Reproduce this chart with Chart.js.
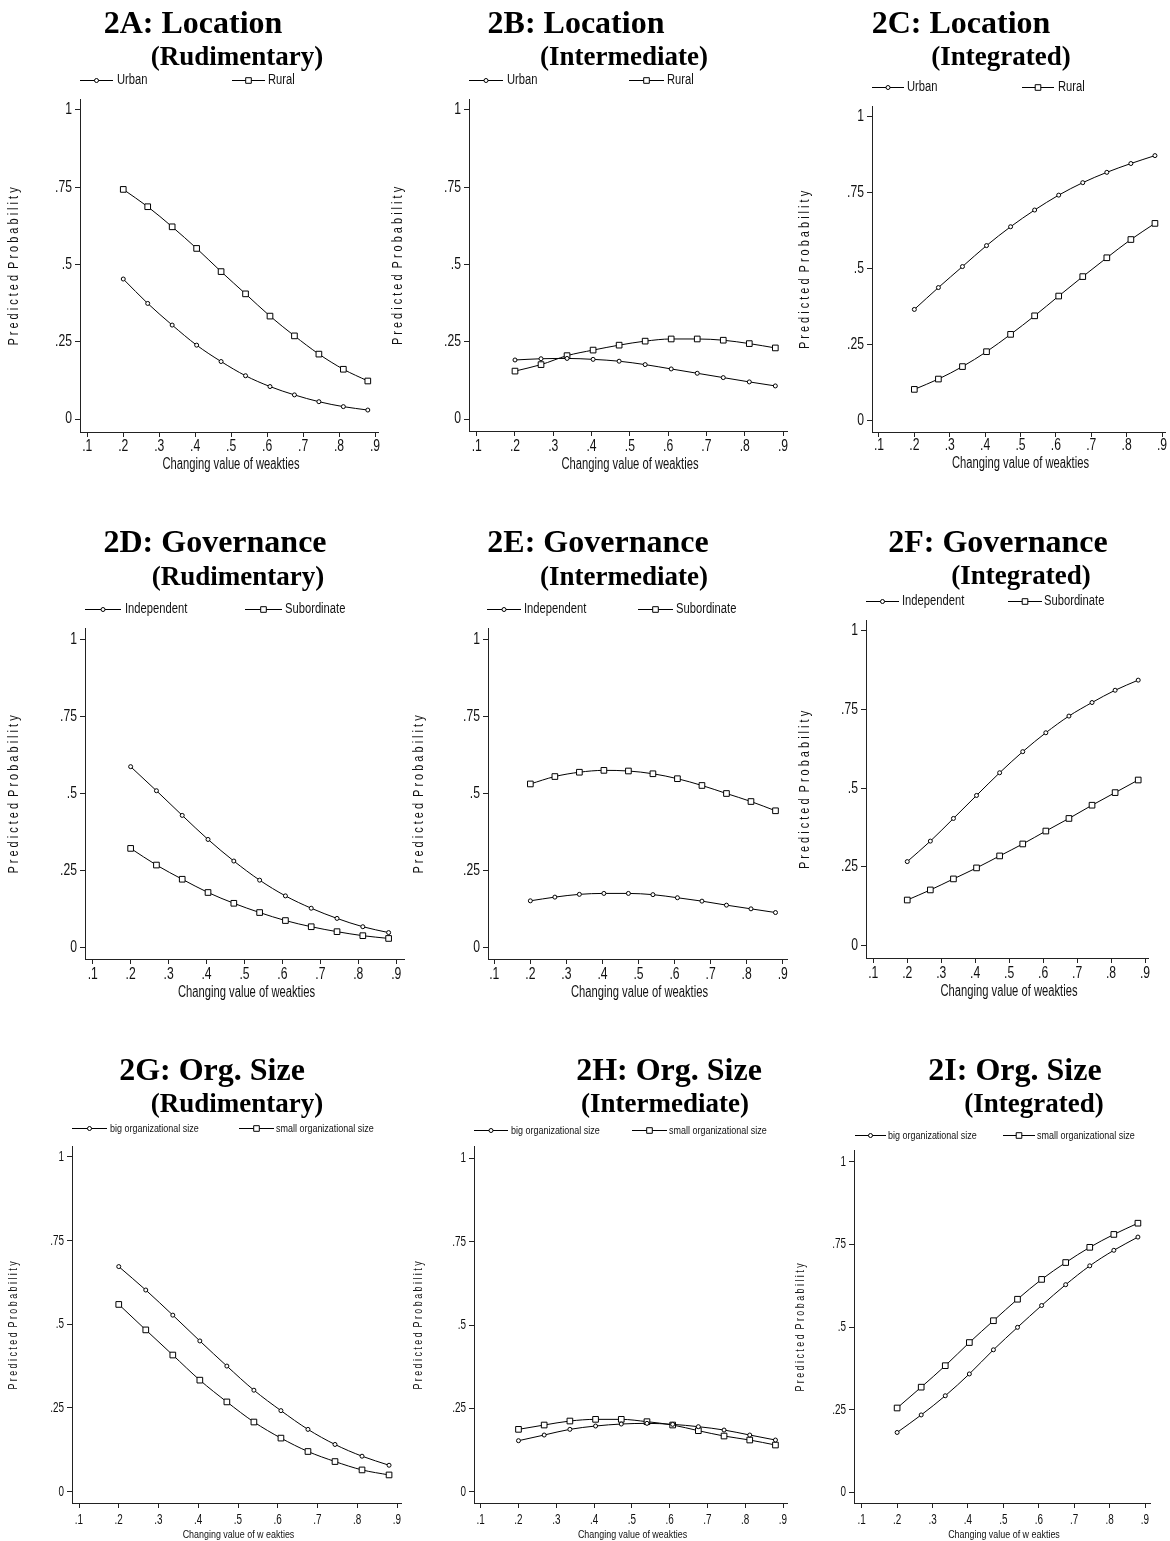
<!DOCTYPE html>
<html>
<head>
<meta charset="utf-8">
<script src="https://cdn.jsdelivr.net/npm/chart.js@4.4.0/dist/chart.umd.min.js"></script>
<style>
html, body { margin: 0; padding: 0; background: #fff; }
#page { position: relative; width: 1170px; height: 1541px; overflow: hidden; }
#page canvas { position: absolute; }
</style>
</head>
<body>
<div id="page"></div>
<script>
// x positions of the markers (changing value of weakties)
const xValues = [0.2, 0.268, 0.336, 0.404, 0.472, 0.54, 0.608, 0.676, 0.744, 0.812, 0.88];
const xTicks = [0.1, 0.2, 0.3, 0.4, 0.5, 0.6, 0.7, 0.8, 0.9];
const yTicks = [0, 0.25, 0.5, 0.75, 1];

// 2A-2C location
const locRudUrban = [0.453, 0.374, 0.304, 0.239, 0.186, 0.140, 0.105, 0.078, 0.056, 0.040, 0.029];
const locRudRural = [0.743, 0.687, 0.622, 0.552, 0.477, 0.405, 0.333, 0.269, 0.210, 0.161, 0.123];
const locIntmUrban = [0.191, 0.195, 0.196, 0.193, 0.187, 0.176, 0.162, 0.148, 0.134, 0.120, 0.107];
const locIntmRural = [0.155, 0.176, 0.205, 0.223, 0.239, 0.252, 0.259, 0.259, 0.255, 0.244, 0.230];
const locIntgUrban = [0.366, 0.438, 0.507, 0.576, 0.638, 0.693, 0.742, 0.783, 0.817, 0.846, 0.872];
const locIntgRural = [0.103, 0.137, 0.178, 0.227, 0.284, 0.345, 0.410, 0.474, 0.536, 0.596, 0.649];

// 2D-2F governance
const govRudIndep = [0.587, 0.509, 0.429, 0.351, 0.281, 0.219, 0.168, 0.128, 0.095, 0.068, 0.049];
const govRudSub = [0.322, 0.268, 0.222, 0.179, 0.144, 0.114, 0.088, 0.068, 0.052, 0.039, 0.030];
const govIntmIndep = [0.152, 0.164, 0.173, 0.176, 0.176, 0.172, 0.162, 0.151, 0.138, 0.126, 0.114];
const govIntmSub = [0.531, 0.555, 0.569, 0.575, 0.573, 0.564, 0.548, 0.526, 0.500, 0.474, 0.444];
const govIntgIndep = [0.267, 0.332, 0.404, 0.477, 0.549, 0.616, 0.676, 0.729, 0.772, 0.811, 0.843];
const govIntgSub = [0.145, 0.177, 0.212, 0.247, 0.285, 0.323, 0.364, 0.404, 0.446, 0.486, 0.526];

// 2G-2I org. size
const sizeRudBig = [0.672, 0.602, 0.527, 0.450, 0.375, 0.303, 0.242, 0.186, 0.141, 0.106, 0.079];
const sizeRudSmall = [0.559, 0.483, 0.408, 0.333, 0.268, 0.208, 0.160, 0.120, 0.090, 0.065, 0.050];
const sizeIntmBig = [0.153, 0.170, 0.187, 0.197, 0.203, 0.205, 0.202, 0.195, 0.185, 0.170, 0.155];
const sizeIntmSmall = [0.187, 0.200, 0.212, 0.217, 0.217, 0.210, 0.200, 0.183, 0.167, 0.155, 0.140];
const sizeIntgBig = [0.181, 0.234, 0.292, 0.358, 0.431, 0.499, 0.565, 0.628, 0.685, 0.732, 0.772];
const sizeIntgSmall = [0.255, 0.318, 0.383, 0.453, 0.519, 0.584, 0.644, 0.695, 0.741, 0.780, 0.814];

const locLabels = ['Urban', 'Rural'];
const govLabels = ['Independent', 'Subordinate'];
const sizeLabels = ['big organizational size', 'small organizational size'];
const yTitleText = 'P r e d i c t e d  P r o b a b i l i t y';

const SANS = "'Liberation Sans', Arial, sans-serif";
const SERIF = "'Liberation Serif', 'Times New Roman', serif";
const INK = '#111';

// Stata draws its text in a squeezed Arial; size + horizontal squeeze per text kind
const bigText = { tick: [16, 0.76], legend: [14, 0.8], xTitle: [16, 0.7], yTitle: [15, 0.73] };
const smallText = { tick: [15, 0.66], legend: [11.5, 0.78], xTitle: [11.6, 0.77], yTitle: [12.5, 0.71] };

// page layout of each panel (pixels)
const panels = [
    { cell: [0, 0, 390, 500], title: ['2A: Location', '(Rudimentary)'], t1: [193, 33], t2: [237, 65],
      labels: locLabels, series: [locRudUrban, locRudRural], ly: 80, leg: [[80, 113, 117], [232, 265, 268]],
      axisX: 80, axisTop: 99, axisY: 432, axisRight: 378, px1: 87.3, px9: 375, py1: 110, py0: 419,
      yTitleX: 14, xTickY: 447, xTitleY: 465, xTitle: 'Changing value of weakties' },
    { cell: [390, 0, 405, 500], title: ['2B: Location', '(Intermediate)'], t1: [576, 33], t2: [624, 65],
      labels: locLabels, series: [locIntmUrban, locIntmRural], ly: 80, leg: [[469, 503, 507], [629, 664, 667]],
      axisX: 469, axisTop: 99, axisY: 431, axisRight: 787, px1: 476.7, px9: 783, py1: 110, py0: 419,
      yTitleX: 398, xTickY: 447, xTitleY: 465, xTitle: 'Changing value of weakties' },
    { cell: [780, 0, 390, 500], title: ['2C: Location', '(Integrated)'], t1: [961, 33], t2: [1001, 65],
      labels: locLabels, series: [locIntgUrban, locIntgRural], ly: 87, leg: [[872, 904, 907], [1022, 1054, 1058]],
      axisX: 872, axisTop: 106, axisY: 432, axisRight: 1167, px1: 879, px9: 1164, py1: 116.7, py0: 420.7,
      yTitleX: 805, xTickY: 446, xTitleY: 464, xTitle: 'Changing value of weakties' },
    { cell: [0, 505, 410, 495], title: ['2D: Governance', '(Rudimentary)'], t1: [215, 552], t2: [238, 585],
      labels: govLabels, series: [govRudIndep, govRudSub], ly: 609, leg: [[85, 121, 125], [245, 282, 285]],
      axisX: 85, axisTop: 628, axisY: 959, axisRight: 404, px1: 92.7, px9: 396.2, py1: 639.3, py0: 947.7,
      yTitleX: 14, xTickY: 975, xTitleY: 993, xTitle: 'Changing value of weakties' },
    { cell: [390, 505, 405, 495], title: ['2E: Governance', '(Intermediate)'], t1: [598, 552], t2: [624, 585],
      labels: govLabels, series: [govIntmIndep, govIntmSub], ly: 609, leg: [[487, 521, 524], [638, 673, 676]],
      axisX: 488, axisTop: 628, axisY: 959, axisRight: 787, px1: 494.3, px9: 782.7, py1: 639.3, py0: 947.7,
      yTitleX: 419, xTickY: 975, xTitleY: 993, xTitle: 'Changing value of weakties' },
    { cell: [780, 505, 390, 495], title: ['2F: Governance', '(Integrated)'], t1: [998, 552], t2: [1021, 584],
      labels: govLabels, series: [govIntgIndep, govIntgSub], ly: 601, leg: [[866, 899, 902], [1008, 1042, 1044]],
      axisX: 866, axisTop: 620, axisY: 958, axisRight: 1148, px1: 873.3, px9: 1145, py1: 630.7, py0: 945.7,
      yTitleX: 805, xTickY: 974, xTitleY: 992, xTitle: 'Changing value of weakties' },
    { cell: [0, 1035, 410, 506], title: ['2G: Org. Size', '(Rudimentary)'], t1: [212, 1080], t2: [237, 1112],
      labels: sizeLabels, series: [sizeRudBig, sizeRudSmall], ly: 1128, leg: [[72, 107, 110], [239, 274, 276]],
      axisX: 72, axisTop: 1146, axisY: 1503, axisRight: 401, px1: 79, px9: 397, py1: 1156.7, py0: 1491.7,
      yTitleX: 14, xTickY: 1520, xTitleY: 1535, xTitle: 'Changing value of w eakties', small: true },
    { cell: [390, 1035, 405, 506], title: ['2H: Org. Size', '(Intermediate)'], t1: [669, 1080], t2: [665, 1112],
      labels: sizeLabels, series: [sizeIntmBig, sizeIntmSmall], ly: 1130, leg: [[474, 508, 511], [632, 667, 669]],
      axisX: 474, axisTop: 1146, axisY: 1503, axisRight: 787, px1: 480.7, px9: 783, py1: 1158.3, py0: 1491.7,
      yTitleX: 419, xTickY: 1520, xTitleY: 1535, xTitle: 'Changing value of weakties', small: true },
    { cell: [780, 1035, 390, 506], title: ['2I: Org. Size', '(Integrated)'], t1: [1015, 1080], t2: [1034, 1112],
      labels: sizeLabels, series: [sizeIntgBig, sizeIntgSmall], ly: 1135, leg: [[855, 886, 888], [1003, 1035, 1037]],
      axisX: 854, axisTop: 1150, axisY: 1503, axisRight: 1150, px1: 861.7, px9: 1145, py1: 1161.7, py0: 1492.3,
      yTitleX: 801, xTickY: 1520, xTitleY: 1535, xTitle: 'Changing value of w eakties', small: true }
];

const fmt = v => v === 0 ? '0' : v === 1 ? '1' : String(v).replace(/^0/, '');

function narrowText(ctx, text, x, y, style, align, rotate) {
    ctx.save();
    ctx.translate(x, y);
    if (rotate) ctx.rotate(-Math.PI / 2);
    ctx.scale(style[1], 1);
    ctx.font = style[0] + 'px ' + SANS;
    ctx.textAlign = align || 'center';
    ctx.textBaseline = 'middle';
    ctx.fillStyle = INK;
    ctx.fillText(text, 0, 0);
    ctx.restore();
}

function drawMarker(ctx, style, x, y) {
    ctx.beginPath();
    if (style === 'circle') {
        ctx.arc(x, y, 2, 0, Math.PI * 2);
    } else {
        ctx.rect(x - 2.8, y - 2.8, 5.6, 5.6);
    }
    ctx.fillStyle = '#fff';
    ctx.fill();
    ctx.strokeStyle = '#000';
    ctx.lineWidth = 1;
    ctx.stroke();
}

// panel title, legend, tick labels and axis titles, drawn where Stata put them
function decorPlugin(p) {
    const cx = p.cell[0], cy = p.cell[1];
    const ts = p.small ? smallText : bigText;
    return {
        id: 'decor',
        afterDraw(chart) {
            const ctx = chart.ctx;
            const area = chart.chartArea;
            const xs = chart.scales.x, ys = chart.scales.y;
            ctx.save();
            ctx.fillStyle = '#000';
            ctx.textAlign = 'center';
            ctx.textBaseline = 'alphabetic';
            ctx.font = 'bold 32px ' + SERIF;
            ctx.fillText(p.title[0], p.t1[0] - cx, p.t1[1] - cy);
            ctx.font = 'bold 27px ' + SERIF;
            ctx.fillText(p.title[1], p.t2[0] - cx, p.t2[1] - cy);

            const ly = Math.round(p.ly - cy) + 0.5;
            p.leg.forEach((l, i) => {
                ctx.strokeStyle = '#000';
                ctx.lineWidth = 1;
                ctx.beginPath();
                ctx.moveTo(l[0] - cx, ly);
                ctx.lineTo(l[1] - cx, ly);
                ctx.stroke();
                drawMarker(ctx, i ? 'rect' : 'circle', (l[0] + l[1]) / 2 - cx, ly);
                narrowText(ctx, p.labels[i], l[2] - cx, ly, ts.legend, 'left');
            });

            xTicks.forEach(v => {
                narrowText(ctx, fmt(v), xs.getPixelForValue(v), p.xTickY - cy, ts.tick, 'center');
            });
            yTicks.forEach(v => {
                narrowText(ctx, fmt(v), area.left - 8, ys.getPixelForValue(v), ts.tick, 'right');
            });
            narrowText(ctx, p.xTitle, (area.left + area.right) / 2 + 2, p.xTitleY - cy, ts.xTitle, 'center');
            narrowText(ctx, yTitleText, p.yTitleX - cx, (area.top + area.bottom) / 2 + 1, ts.yTitle, 'center', true);
            ctx.restore();
        }
    };
}

const page = document.getElementById('page');

panels.forEach(p => {
    const [cx, cy, cw, ch] = p.cell;
    const cv = document.createElement('canvas');
    cv.width = cw;
    cv.height = ch;
    cv.style.left = cx + 'px';
    cv.style.top = cy + 'px';
    cv.style.width = cw + 'px';
    cv.style.height = ch + 'px';
    page.appendChild(cv);

    // scale ranges so that the axis lines sit where they do in the figure
    const xppu = (p.px9 - p.px1) / 0.8;
    const yppu = p.py0 - p.py1;
    const xMin = 0.1 - (p.px1 - p.axisX) / xppu;
    const xMax = 0.9 + (p.axisRight - p.px9) / xppu;
    const yMin = -(p.axisY - p.py0) / yppu;
    const yMax = 1 + (p.py1 - p.axisTop) / yppu;

    const yW = p.axisX - cx;
    const xH = 30;

    new Chart(cv.getContext('2d'), {
        type: 'line',
        data: {
            datasets: p.series.map((s, i) => ({
                label: p.labels[i],
                data: xValues.map((x, k) => ({ x: x, y: s[k] })),
                borderColor: '#000',
                borderWidth: 1,
                pointStyle: i ? 'rect' : 'circle',
                pointRadius: i ? 4 : 2,
                pointBackgroundColor: '#fff',
                pointBorderColor: '#000',
                pointBorderWidth: 1,
                cubicInterpolationMode: 'monotone',
                fill: false
            }))
        },
        options: {
            responsive: false,
            animation: false,
            layout: {
                padding: { left: 0, right: cx + cw - p.axisRight, top: p.axisTop - cy, bottom: cy + ch - p.axisY - xH }
            },
            plugins: {
                legend: { display: false },
                tooltip: { enabled: false }
            },
            scales: {
                x: {
                    type: 'linear',
                    min: xMin,
                    max: xMax,
                    afterBuildTicks: axis => { axis.ticks = xTicks.map(v => ({ value: v })); },
                    afterFit: axis => { axis.height = xH; },
                    grid: { drawOnChartArea: false, drawTicks: true, tickLength: 5, color: '#222' },
                    border: { display: true, color: '#222', width: 1 },
                    ticks: { display: false }
                },
                y: {
                    type: 'linear',
                    min: yMin,
                    max: yMax,
                    afterBuildTicks: axis => { axis.ticks = yTicks.map(v => ({ value: v })); },
                    afterFit: axis => { axis.width = yW; },
                    grid: { drawOnChartArea: false, drawTicks: true, tickLength: 5, color: '#222' },
                    border: { display: true, color: '#222', width: 1 },
                    ticks: { display: false }
                }
            }
        },
        plugins: [decorPlugin(p)]
    });
});
</script>
</body>
</html>
